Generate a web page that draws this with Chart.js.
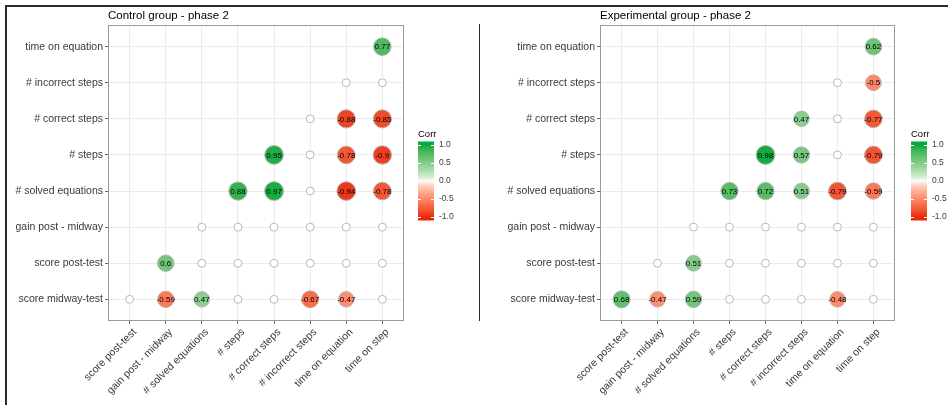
<!DOCTYPE html>
<html>
<head>
<meta charset="utf-8">
<title>Correlation plots - phase 2</title>
<script src="https://cdn.jsdelivr.net/npm/chart.js@4.4.1/dist/chart.umd.min.js"></script>
<style>
  html, body { margin: 0; padding: 0; background: #fff; }
  #page { position: relative; width: 948px; height: 405px; overflow: hidden; }
  canvas { position: absolute; top: 0; }
  .rule { position: absolute; background: #2b2b2b; z-index: 2; }
</style>
</head>
<body>
<div id="page">
  <canvas id="control" width="479" height="405" style="left:0"></canvas>
  <canvas id="experimental" width="469" height="405" style="left:479px"></canvas>
  <div class="rule" style="left:6px; top:5px; width:942px; height:1.5px;"></div>
  <div class="rule" style="left:5px; top:5px; width:1.5px; height:400px;"></div>
  <div class="rule" style="left:479px; top:24px; width:1px; height:297px;"></div>
</div>
<script>
"use strict";

// ── Data ───────────────────────────────────────────────────────────── //
// rows bottom → top, columns left → right; null = no cell, 0 = not significant
const rowLabels = [
  "score midway-test", "score post-test", "gain post - midway", "# solved equations",
  "# steps", "# correct steps", "# incorrect steps", "time on equation",
];
const colLabels = [
  "score post-test", "gain post - midway", "# solved equations", "# steps",
  "# correct steps", "# incorrect steps", "time on equation", "time on step",
];

const controlCorr = [
  [0,    -0.59, 0.47, 0,    0,    -0.67, -0.47, 0    ],
  [null, 0.6,   0,    0,    0,    0,     0,     0    ],
  [null, null,  0,    0,    0,    0,     0,     0    ],
  [null, null,  null, 0.88, 0.97, 0,     -0.94, -0.78],
  [null, null,  null, null, 0.95, 0,     -0.78, -0.9 ],
  [null, null,  null, null, null, 0,     -0.88, -0.85],
  [null, null,  null, null, null, null,  0,     0    ],
  [null, null,  null, null, null, null,  null,  0.77 ],
];

const experimentalCorr = [
  [0.68, -0.47, 0.59, 0,    0,    0,     -0.48, 0    ],
  [null, 0,     0.51, 0,    0,    0,     0,     0    ],
  [null, null,  0,    0,    0,    0,     0,     0    ],
  [null, null,  null, 0.73, 0.72, 0.51,  -0.79, -0.59],
  [null, null,  null, null, 0.98, 0.57,  0,     -0.79],
  [null, null,  null, null, null, 0.47,  0,     -0.77],
  [null, null,  null, null, null, null,  0,     -0.5 ],
  [null, null,  null, null, null, null,  null,  0.62 ],
];

const legendTicks = [1.0, 0.5, 0.0, -0.5, -1.0];

const FONT = '"Liberation Sans", Arial, Helvetica, sans-serif';
const TEXT = "#3A3A3A";

// ── Colour scale (gradient2 interpolated in Lab) ───────────────────── //
const LOW = "#E8280C", MID = "#FFFFFF", HIGH = "#00AB3F";

function toLab(hex) {
  const lin = [1, 3, 5].map(i => {
    const c = parseInt(hex.substr(i, 2), 16) / 255;
    return c <= 0.04045 ? c / 12.92 : Math.pow((c + 0.055) / 1.055, 2.4);
  });
  const [r, g, b] = lin;
  const f = t => t > 0.008856 ? Math.cbrt(t) : 7.787 * t + 16 / 116;
  const fx = f((0.4124 * r + 0.3576 * g + 0.1805 * b) / 0.95047);
  const fy = f(0.2126 * r + 0.7152 * g + 0.0722 * b);
  const fz = f((0.0193 * r + 0.1192 * g + 0.9505 * b) / 1.08883);
  return [116 * fy - 16, 500 * (fx - fy), 200 * (fy - fz)];
}

function fromLab([L, A, B]) {
  const fy = (L + 16) / 116, fx = fy + A / 500, fz = fy - B / 200;
  const inv = t => t ** 3 > 0.008856 ? t ** 3 : (t - 16 / 116) / 7.787;
  const x = inv(fx) * 0.95047, y = inv(fy), z = inv(fz) * 1.08883;
  const lin = [
     3.2406 * x - 1.5372 * y - 0.4986 * z,
    -0.9689 * x + 1.8758 * y + 0.0415 * z,
     0.0557 * x - 0.2040 * y + 1.0570 * z,
  ];
  const out = lin.map(c => {
    const v = c <= 0.0031308 ? 12.92 * c : 1.055 * Math.pow(c, 1 / 2.4) - 0.055;
    return Math.round(Math.max(0, Math.min(1, v)) * 255);
  });
  return `rgb(${out.join(",")})`;
}

const labLow = toLab(LOW), labMid = toLab(MID), labHigh = toLab(HIGH);

function corrColor(v) {
  const [a, b] = v < 0 ? [labMid, labLow] : [labMid, labHigh];
  const t = Math.pow(Math.abs(v), 0.7);
  return fromLab(a.map((c, i) => c + (b[i] - c) * t));
}

// ── Helpers ────────────────────────────────────────────────────────── //
function toPoints(matrix) {
  const pts = [];
  matrix.forEach((row, i) => row.forEach((v, j) => {
    if (v === null) return;
    pts.push({ x: j + 1, y: i + 1, r: 4 + 5.5 * Math.sqrt(Math.abs(v)), v });
  }));
  return pts;
}

function axis(labels, extra) {
  return Object.assign({
    type: "linear",
    min: 0.4,
    max: 8.6,
    afterBuildTicks: s => { s.ticks = labels.map((_, i) => ({ value: i + 1 })); },
    ticks: {
      autoSkip: false,
      color: TEXT,
      padding: 2,
      font: { family: FONT, size: 10.5 },
      callback: v => labels[v - 1],
    },
    grid: { color: "#EBEBEB", lineWidth: 1, tickColor: "#666", tickLength: 3 },
    border: { display: false },
  }, extra);
}

function decor(title, legendX) {
  return {
    id: "decor",
    afterDatasetsDraw(chart) {
      const { ctx } = chart;
      const pts = chart.data.datasets[0].data;
      ctx.save();
      ctx.fillStyle = "#000";
      ctx.font = `8px ${FONT}`;
      ctx.textAlign = "center";
      ctx.textBaseline = "middle";
      chart.getDatasetMeta(0).data.forEach((el, i) => {
        const v = pts[i].v;
        if (v !== 0) ctx.fillText(String(v), el.x, el.y + 0.5);
      });
      ctx.restore();
    },
    afterDraw(chart) {
      const { ctx, chartArea: a } = chart;
      ctx.save();

      // panel border
      ctx.strokeStyle = "#9A9A9A";
      ctx.lineWidth = 1;
      ctx.strokeRect(a.left + 0.5, a.top + 0.5, a.right - a.left - 1, a.bottom - a.top - 1);

      // title
      ctx.fillStyle = "#000";
      ctx.font = `11.5px ${FONT}`;
      ctx.textAlign = "left";
      ctx.textBaseline = "alphabetic";
      ctx.fillText(title, a.left, 19);

      // colour bar legend
      const top = 141.5, bottom = 220.5, w = 16, mid = 181, unit = 36;
      ctx.font = `9.5px ${FONT}`;
      ctx.fillText("Corr", legendX, 137);

      const grad = ctx.createLinearGradient(0, mid - unit, 0, mid + unit);
      for (let k = 0; k <= 40; k++) grad.addColorStop(k / 40, corrColor(1 - k / 20));
      ctx.fillStyle = grad;
      ctx.fillRect(legendX, top, w, bottom - top);

      ctx.strokeStyle = "#fff";
      ctx.font = `8.5px ${FONT}`;
      ctx.textBaseline = "middle";
      legendTicks.forEach(t => {
        const y = Math.round(mid - t * unit) + 0.5;
        ctx.beginPath();
        ctx.moveTo(legendX, y); ctx.lineTo(legendX + 3, y);
        ctx.moveTo(legendX + w - 3, y); ctx.lineTo(legendX + w, y);
        ctx.stroke();
        ctx.fillStyle = TEXT;
        ctx.fillText(t.toFixed(1), legendX + w + 5, mid - t * unit);
      });

      ctx.restore();
    },
  };
}

function makeChart(id, matrix, title, yWidth, padRight, legendX) {
  return new Chart(document.getElementById(id), {
    type: "bubble",
    data: {
      datasets: [{
        data: toPoints(matrix),
        backgroundColor: c => corrColor(c.raw.v),
        borderColor: "#B8B8B8",
        borderWidth: 1,
        hoverRadius: 0,
      }],
    },
    options: {
      responsive: false,
      animation: false,
      events: [],
      layout: { padding: { left: 0, top: 25, right: padRight, bottom: 0 } },
      plugins: {
        legend: { display: false },
        tooltip: { enabled: false },
        title: { display: false },
      },
      scales: {
        x: axis(colLabels, {
          position: "bottom",
          afterFit: s => { s.height = 84; },
          ticks: Object.assign(axis(colLabels).ticks, { minRotation: 45, maxRotation: 45, labelOffset: 5 }),
        }),
        y: axis(rowLabels, {
          position: "left",
          afterFit: s => { s.width = yWidth; },
        }),
      },
    },
    plugins: [decor(title, legendX)],
  });
}

// ── Init ───────────────────────────────────────────────────────────── //
makeChart("control", controlCorr, "Control group - phase 2", 108, 75, 418);
makeChart("experimental", experimentalCorr, "Experimental group - phase 2", 121, 53, 432);
</script>
</body>
</html>
